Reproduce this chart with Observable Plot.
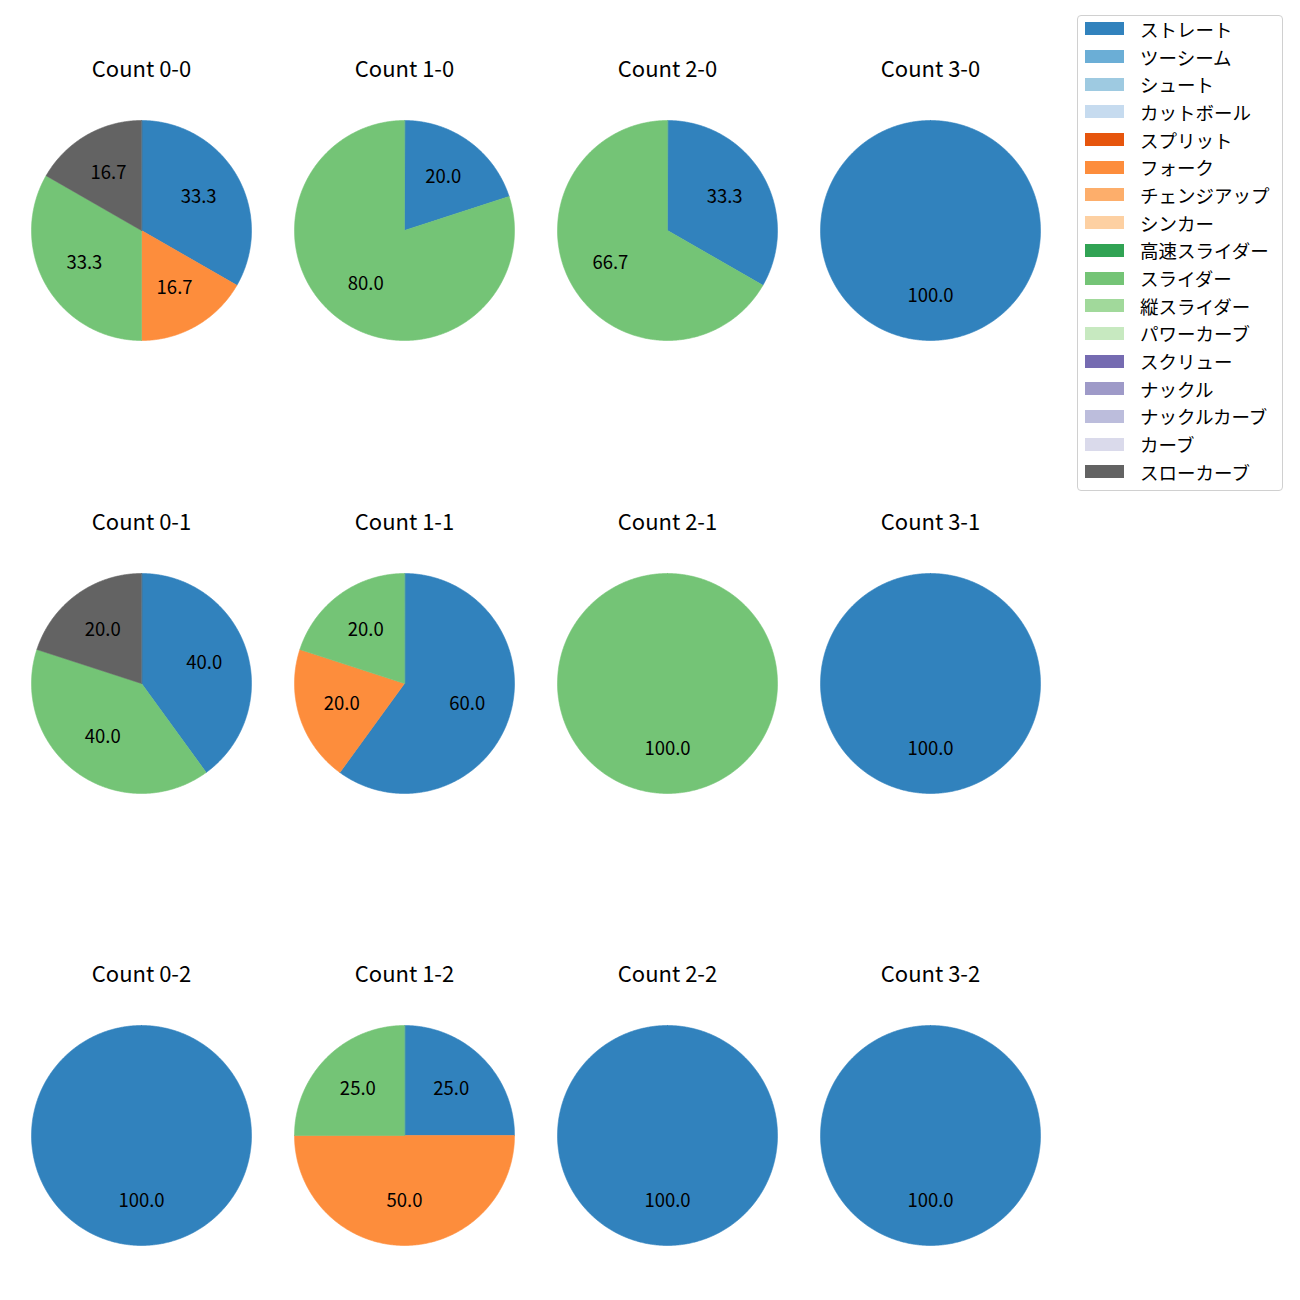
<!DOCTYPE html>
<html>
<head>
<meta charset="utf-8">
<script src="https://cdn.jsdelivr.net/npm/d3@7"></script>
<script src="https://cdn.jsdelivr.net/npm/@observablehq/plot@0.6"></script>
<style>
  html, body { margin: 0; padding: 0; background: #fff; overflow: hidden; }
  body { font-family: "Noto Sans CJK JP", "Noto Sans", sans-serif; }
  #fig { position: relative; width: 1300px; height: 1300px; overflow: hidden; }
  .sub { position: absolute; }
  #legend { position: absolute; left: 1077px; top: 15px; width: 204px; height: 474px;
            border: 1px solid #d0d0d0; border-radius: 4px; box-sizing: content-box; overflow: hidden; }
  #legend > div { margin: -1px 0 0 0 !important; padding: 0 0 0 7px !important; font-size: 18.5px !important;
                  font-family: "Noto Sans CJK JP", sans-serif !important; color: #000 !important; }
  .lg-swatch { height: 27.7px !important; padding: 0 !important; margin: 0 !important; display: flex; align-items: center; }
  .lg-swatch svg { margin-right: 16px !important; }
  .lg-swatch-label, .lg-swatch span { font-size: 18.5px !important; color: #000; }
</style>
</head>
<body>
<div id="fig"></div>
<script>
// ---- data ----
const pitchTypes = ["ストレート","ツーシーム","シュート","カットボール","スプリット","フォーク","チェンジアップ","シンカー","高速スライダー","スライダー","縦スライダー","パワーカーブ","スクリュー","ナックル","ナックルカーブ","カーブ","スローカーブ"];
const pitchColors = ["#3182bd","#6baed6","#9ecae1","#c6dbef","#e6550d","#fd8d3c","#fdae6b","#fdd0a2","#31a354","#74c476","#a1d99b","#c7e9c0","#756bb1","#9e9ac8","#bcbddc","#dadaeb","#636363"];
const counts = ["0-0","1-0","2-0","3-0","0-1","1-1","2-1","3-1","0-2","1-2","2-2","3-2"];
// percentage share per count (same order as counts)
const straight  = [33.3, 20.0, 33.3, 100, 40.0, 60.0,   0, 100, 100, 25.0, 100, 100];
const fork      = [16.7,    0,    0,   0,    0, 20.0,   0,   0,   0, 50.0,   0,   0];
const slider    = [33.3, 80.0, 66.7,   0, 40.0, 20.0, 100,   0,   0, 25.0,   0,   0];
const slowCurve = [16.7,    0,    0,   0, 20.0,    0,   0,   0,   0,    0,   0,   0];

const series = [
  {type: "ストレート", values: straight},
  {type: "フォーク", values: fork},
  {type: "スライダー", values: slider},
  {type: "スローカーブ", values: slowCurve}
];

const fig = document.getElementById("fig");
const FONT = "Noto Sans CJK JP, Noto Sans, sans-serif";

counts.forEach((c, i) => {
  const slices = series.map(s => ({type: s.type, value: s.values[i]})).filter(d => d.value > 0);
  const arcs = d3.pie().sort(null).value(d => d.value).startAngle(0).endAngle(2 * Math.PI)(slices);
  const total = d3.sum(slices, d => d.value);
  // wedge outlines in unit-radius data space
  const pts = [];
  arcs.forEach((a, k) => {
    const n = Math.max(2, Math.ceil((a.endAngle - a.startAngle) / (Math.PI / 360)));
    if (a.endAngle - a.startAngle < 2 * Math.PI - 1e-9) pts.push({id: k, type: a.data.type, x: 0, y: 0});
    for (let j = 0; j <= n; j++) {
      const t = a.startAngle + (a.endAngle - a.startAngle) * j / n;
      pts.push({id: k, type: a.data.type, x: Math.sin(t), y: Math.cos(t)});
    }
  });
  const labels = arcs.map(a => {
    const m = (a.startAngle + a.endAngle) / 2;
    return {x: 0.6 * Math.sin(m), y: 0.6 * Math.cos(m), text: (a.data.value / total * 100).toFixed(1)};
  });
  const col = i % 4, row = Math.floor(i / 4);
  const plot = Plot.plot({
    width: 262, height: 452,
    marginLeft: 21, marginRight: 21, marginTop: 120, marginBottom: 112,
    x: {domain: [-1, 1], axis: null},
    y: {domain: [-1, 1], axis: null},
    color: {domain: pitchTypes, range: pitchColors},
    style: {fontFamily: FONT, background: "transparent"},
    marks: [
      Plot.line(pts, {x: "x", y: "y", z: "id", fill: "type", stroke: "type", strokeWidth: 0.6, curve: "linear-closed"}),
      Plot.text(labels, {x: "x", y: "y", text: "text", fontSize: 18.5, fill: "#000", fontFamily: FONT}),
      Plot.text([`Count ${c}`], {frameAnchor: "top", dy: -59, fontSize: 22, fill: "#000", fontFamily: FONT})
    ]
  });
  plot.classList.add("sub");
  plot.style.left = (10 + col * 263) + "px";
  plot.style.top = Math.round(row * 452.5) + "px";
  fig.appendChild(plot);
});

const legendBox = document.createElement("div");
legendBox.id = "legend";
legendBox.appendChild(Plot.legend({
  color: {domain: pitchTypes, range: pitchColors},
  legend: "swatches", columns: 1, swatchWidth: 39, swatchHeight: 13, className: "lg"
}));
fig.appendChild(legendBox);
</script>
</body>
</html>
